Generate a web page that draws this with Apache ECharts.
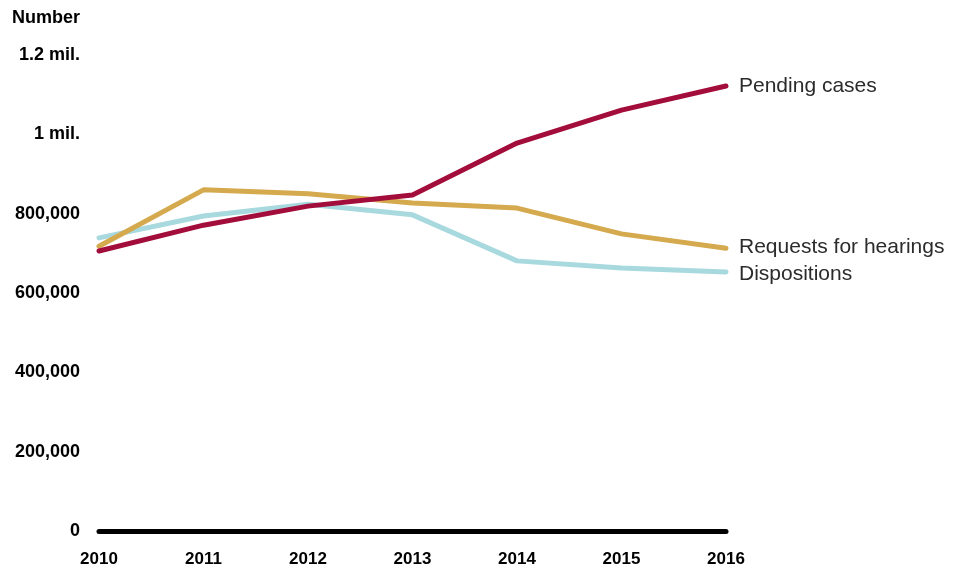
<!DOCTYPE html>
<html>
<head>
<meta charset="utf-8">
<script src="https://cdn.jsdelivr.net/npm/echarts@6/dist/echarts.min.js"></script>
<style>html,body{margin:0;padding:0;background:#fff;}#c{width:964px;height:569px;}</style>
</head>
<body>
<div id="c"></div>
<script>
var years = ['2010','2011','2012','2013','2014','2015','2016'];
var pendingCases = [706000, 771000, 819000, 847000, 978000, 1061000, 1122000];
var requestsForHearings = [718000, 860000, 850000, 827000, 814000, 749000, 713000];
var dispositions = [739000, 794000, 824000, 797000, 681000, 663000, 653000];
var yTickLabels = {0:'0',200000:'200,000',400000:'400,000',600000:'600,000',800000:'800,000',1000000:'1 mil.',1200000:'1.2 mil.'};

var chart = echarts.init(document.getElementById('c'), null, {renderer:'canvas'});
var font = 'Liberation Sans, Arial, sans-serif';
function mk(name, data, color, dy) {
  return {
    name: name, type: 'line', data: data, symbol: 'none', smooth: false,
    lineStyle: {color: color, width: 5, cap: 'round', join: 'round'},
    itemStyle: {color: color},
    endLabel: {show: true, formatter: '{a}', offset: [5, dy], fontFamily: font, fontSize: 21, color: '#2b2b2b'},
    emphasis: {disabled: true}
  };
}
chart.setOption({
  animation: false,
  title: {text: 'Number', left: 7, top: 4, textStyle: {fontFamily: font, fontWeight: 'bold', fontSize: 18, color: '#000'}},
  grid: {left: 99, right: 238, top: 55, bottom: 38, containLabel: false},
  xAxis: {
    type: 'category', data: years, boundaryGap: false,
    axisLine: {show: true, lineStyle: {color: '#000', width: 5}},
    axisTick: {show: false},
    axisLabel: {margin: 20, fontFamily: font, fontWeight: 'bold', fontSize: 17, color: '#000'}
  },
  yAxis: {
    type: 'value', min: 0, max: 1200000, interval: 200000,
    axisLine: {show: false}, axisTick: {show: false}, splitLine: {show: false},
    axisLabel: {margin: 19, fontFamily: font, fontWeight: 'bold', fontSize: 18, color: '#000',
      formatter: function(v){ return yTickLabels[v]; }}
  },
  series: [
    mk('Dispositions', dispositions, '#a8d9de', 2),
    mk('Requests for hearings', requestsForHearings, '#d5a94e', -1),
    mk('Pending cases', pendingCases, '#a30d3b', 0)
  ]
});
</script>
</body>
</html>
